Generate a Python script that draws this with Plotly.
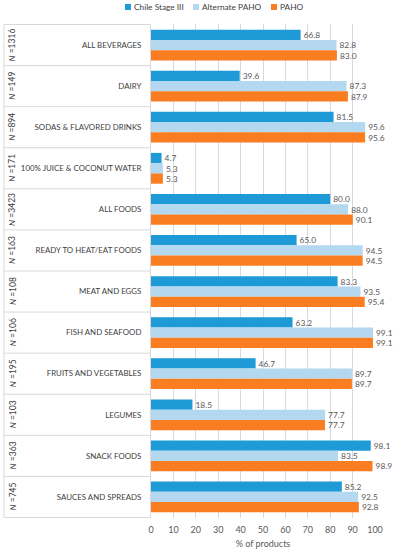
import plotly.graph_objects as go

categories = ["ALL BEVERAGES", "DAIRY", "SODAS & FLAVORED DRINKS", "100% JUICE & COCONUT WATER",
              "ALL FOODS", "READY TO HEAT/EAT FOODS", "MEAT AND EGGS", "FISH AND SEAFOOD",
              "FRUITS AND VEGETABLES", "LEGUMES", "SNACK FOODS", "SAUCES AND SPREADS"]
n_labels = ["1316", "149", "894", "171", "3423", "163", "108", "106", "195", "103", "363", "745"]
chile = [66.8, 39.6, 81.5, 4.7, 80.0, 65.0, 83.3, 63.2, 46.7, 18.5, 98.1, 85.2]
alt_paho = [82.8, 87.3, 95.6, 5.3, 88.0, 94.5, 93.5, 99.1, 89.7, 77.7, 83.5, 92.5]
paho = [83.0, 87.9, 95.6, 5.3, 90.1, 94.5, 95.4, 99.1, 89.7, 77.7, 98.9, 92.8]
x_ticks = [0, 10, 20, 30, 40, 50, 60, 70, 80, 90, 100]

series = [("Chile Stage III", chile, "#1E9AD6"),
          ("Alternate PAHO", alt_paho, "#B4D8F0"),
          ("PAHO", paho, "#FA7D22")]

FONT = "Lato"

fig = go.Figure()
for name, vals, col in series:
    fig.add_trace(go.Bar(
        y=categories, x=vals, name=name, orientation="h",
        marker=dict(color=col, line=dict(width=0)),
        text=[f"{v:.1f}" for v in vals], textposition="outside",
        textfont=dict(size=9, color="#595959", family=FONT), cliponaxis=False,
        showlegend=False,
    ))

W, H = 396, 550
ml, mr, mt, mb = 151, 21, 24, 32
pw = W - ml - mr
ph = H - mt - mb

def px_to_paper(px):
    return (px - ml) / pw

def py_to_paper(py):
    return 1 - (py - mt) / ph

shapes = []
x_left = px_to_paper(4)
for i in range(len(categories) + 1):
    shapes.append(dict(type="line", xref="paper", yref="y", x0=x_left, x1=0,
                       y0=i - 0.5, y1=i - 0.5, line=dict(color="#D9D9D9", width=1)))
shapes.append(dict(type="line", xref="paper", yref="y", x0=x_left, x1=x_left,
                   y0=-0.5, y1=len(categories) - 0.5, line=dict(color="#D9D9D9", width=1)))

annotations = []
for i, n in enumerate(n_labels):
    annotations.append(dict(x=px_to_paper(12.5), y=i, xref="paper", yref="y",
                            xanchor="center", yanchor="middle",
                            text=f"<i>N</i> ={n}", textangle=-90, showarrow=False,
                            font=dict(size=8.5, color="#404040", family=FONT)))

# manual legend
legend_sq_x = [125, 193, 271]
for (name, vals, col), sx in zip(series, legend_sq_x):
    shapes.append(dict(type="rect", xref="paper", yref="paper",
                       x0=px_to_paper(sx), x1=px_to_paper(sx + 6),
                       y0=py_to_paper(10), y1=py_to_paper(4),
                       fillcolor=col, line=dict(width=0)))
    annotations.append(dict(x=px_to_paper(sx + 7), y=py_to_paper(7), xref="paper", yref="paper",
                            xanchor="left", yanchor="middle", text=name, showarrow=False,
                            font=dict(size=8.3, color="#404040", family=FONT)))

fig.update_layout(
    width=W, height=H,
    margin=dict(l=ml, r=mr, t=mt, b=mb, pad=0, autoexpand=False),
    barmode="group", bargap=0.25, bargroupgap=0,
    plot_bgcolor="white", paper_bgcolor="white",
    font=dict(family=FONT, size=9, color="#404040"),
    showlegend=False,
    shapes=shapes, annotations=annotations,
    xaxis=dict(range=[0, 100], tickvals=x_ticks, showgrid=True, gridcolor="#D9D9D9",
               gridwidth=1, zeroline=False, showline=False, ticks="",
               ticklabelstandoff=5,
               tickfont=dict(size=9, color="#595959"), automargin=False,
               title=dict(text="% of products", font=dict(size=9, color="#595959"), standoff=6)),
    yaxis=dict(autorange="reversed", showgrid=False, showline=True, linecolor="#D9D9D9",
               ticks="", ticklabelstandoff=7, automargin=False,
               tickfont=dict(size=7.9, color="#404040", family=FONT)),
)
fig.write_html("out.html", config={"displayModeBar": False},
               post_script="document.body.style.margin='0';")
